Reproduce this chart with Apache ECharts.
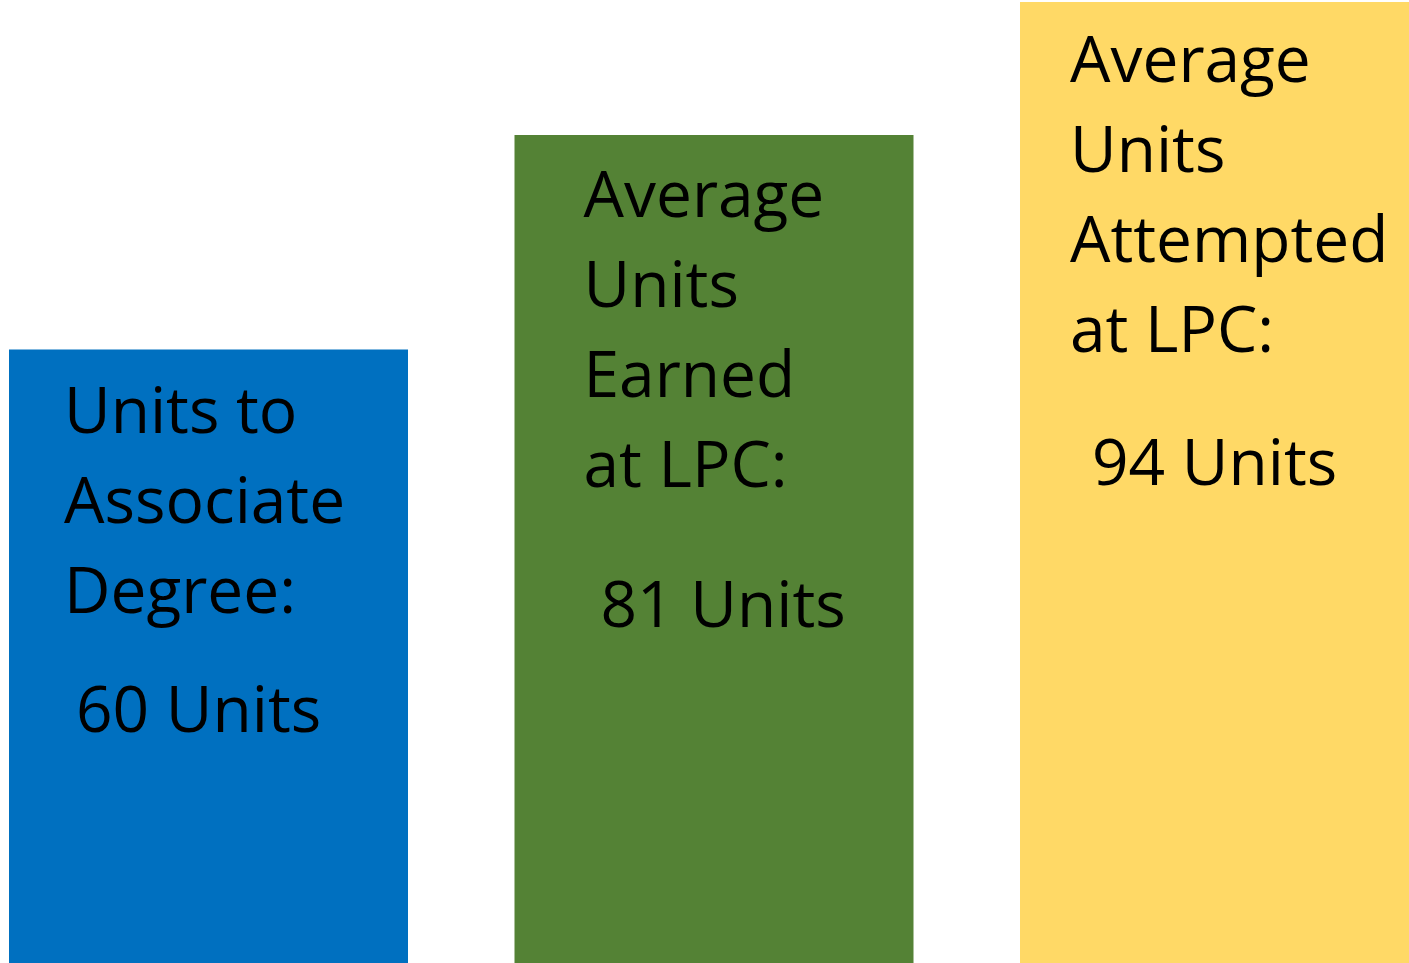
<!DOCTYPE html>
<html>
<head>
<meta charset="utf-8">
<script src="https://cdn.jsdelivr.net/npm/echarts@6/dist/echarts.min.js"></script>
<style>
    html, body { margin: 0; padding: 0; background: #fff; }
    #unitsChart { width: 1409px; height: 963px; }
</style>
</head>
<body>
<div id="unitsChart"></div>
<script>
var categories = ['Associate Degree', 'Earned at LPC', 'Attempted at LPC'];
var values = [60, 81, 94];
var titleLines = [
    ['Units to', 'Associate', 'Degree:'],
    ['Average', 'Units', 'Earned', 'at LPC:'],
    ['Average', 'Units', 'Attempted', 'at LPC:']
];
var unitLabels = ['60 Units', '81 Units', '94 Units'];

var barColors = ['#0070C0', '#548235', '#FFD966'];
// per bar: label offset, gap before the units line, indent of the units line
var labelOffsets = [[55, 20], [69, 19], [50, 17]];
var unitLineHeights = [148, 190, 176];
var unitIndents = [12, 17, 22];

var chart = echarts.init(document.getElementById('unitsChart'));

var seriesData = values.map(function (v, i) {
    var text = titleLines[i].map(function (s) {
        return '{t|' + s + '}';
    }).join('\n') + '\n{u|' + unitLabels[i] + '}';
    return {
        value: v,
        itemStyle: { color: barColors[i] },
        label: {
            show: true,
            position: 'insideTopLeft',
            distance: 0,
            offset: labelOffsets[i],
            formatter: text,
            rich: {
                t: {
                    fontFamily: 'Open Sans',
                    fontSize: 64,
                    lineHeight: 90,
                    color: '#000'
                },
                u: {
                    fontFamily: 'Open Sans',
                    fontSize: 64,
                    lineHeight: unitLineHeights[i],
                    padding: [0, 0, 0, unitIndents[i]],
                    color: '#000'
                }
            }
        }
    };
});

chart.setOption({
    animation: false,
    grid: {
        left: 208.5,
        right: 189.5,
        top: 0,
        bottom: 0,
        containLabel: false
    },
    xAxis: {
        type: 'category',
        data: categories,
        boundaryGap: false,
        show: false
    },
    yAxis: {
        type: 'value',
        min: 0,
        max: 94.2,
        show: false
    },
    series: [
        {
            type: 'bar',
            barWidth: 399,
            clip: false,
            data: seriesData
        }
    ]
});
</script>
</body>
</html>
